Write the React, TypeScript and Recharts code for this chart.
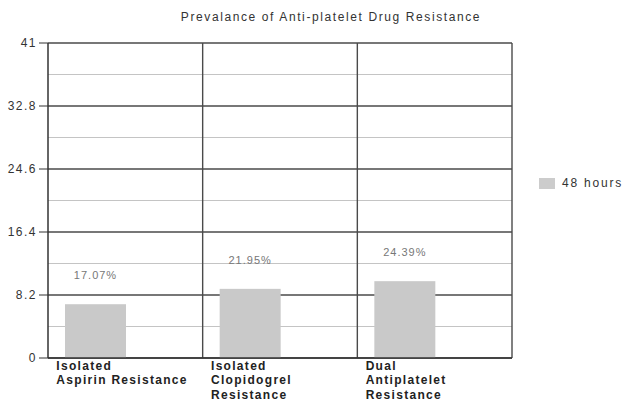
import React from "react"
import { Bar, BarChart, CartesianGrid, XAxis, YAxis, Legend } from "recharts"

const categories = [
    "Isolated\nAspirin Resistance",
    "Isolated\nClopidogrel\nResistance",
    "Dual\nAntiplatelet\nResistance",
]
const counts = [7, 9, 10]
const percentLabels = ["17.07%", "21.95%", "24.39%"]
const majorTicks = [0, 8.2, 16.4, 24.6, 32.8, 41]
const minorTicks = [4.1, 12.3, 20.5, 28.7, 36.9]
const yMax = 41

const data = categories.map((name, i) => ({
    name,
    hours48: counts[i],
    pct: percentLabels[i],
}))

const FONT = "'Liberation Sans', Arial, sans-serif"

// y pixel from value using the plot area the grid hands us
const yFor = (offset: any, v: number) => offset.top + offset.height * (1 - v / yMax)

function CategoryTick({ x, y, payload }: any) {
    const lines = String(payload.value).split("\n")
    return (
        <text
            x={x - 69}
            y={y}
            fill="#222"
            fontSize={12}
            fontWeight="bold"
            letterSpacing={1.3}
            fontFamily={FONT}
            textAnchor="start"
        >
            {lines.map((l, i) => (
                <tspan key={i} x={x - 69} dy={i === 0 ? 4 : 14.3}>
                    {l}
                </tspan>
            ))}
        </text>
    )
}

function ShiftedBar(props: any) {
    const { x, y, width, height, payload } = props
    const bx = x - 30
    return (
        <g>
            <rect x={bx} y={y} width={width} height={height} fill="#c9c9c9" />
            <text
                x={bx + width / 2}
                y={y - 25}
                textAnchor="middle"
                fill="#777"
                fontSize={11}
                letterSpacing={1}
                fontFamily={FONT}
            >
                {payload.pct}
            </text>
        </g>
    )
}

function LegendBox({ payload }: any) {
    return (
        <div style={{ display: "flex", alignItems: "center", fontFamily: FONT, fontSize: 12, letterSpacing: 1.8, color: "#333" }}>
            {(payload || []).map((p: any) => (
                <div key={p.value} style={{ display: "flex", alignItems: "center" }}>
                    <span style={{ width: 16, height: 11, background: "#cccccc", display: "inline-block", marginRight: 7 }} />
                    <span>{p.value}</span>
                </div>
            ))}
        </div>
    )
}

export default function App() {
    return (
        <div style={{ position: "absolute", left: 0, top: 0, width: 639, height: 404, background: "#fff" }}>
            <div
                style={{
                    position: "absolute",
                    top: 10,
                    left: 0,
                    width: 662,
                    textAlign: "center",
                    fontFamily: FONT,
                    fontSize: 12,
                    letterSpacing: 1.6,
                    color: "#333",
                }}
            >
                Prevalance of Anti-platelet Drug Resistance
            </div>
            <BarChart width={639} height={404} data={data} margin={{ top: 43, right: 27, bottom: 16, left: 0 }}>
                <CartesianGrid
                    vertical={false}
                    stroke="#c4c4c4"
                    strokeWidth={1}
                    horizontalCoordinatesGenerator={({ offset }: any) => minorTicks.map((v) => yFor(offset, v))}
                />
                <CartesianGrid
                    stroke="#4a4a4a"
                    strokeWidth={1.4}
                    horizontalCoordinatesGenerator={({ offset }: any) => majorTicks.map((v) => yFor(offset, v))}
                    verticalCoordinatesGenerator={({ offset }: any) =>
                        categories.map((_, i) => offset.left + ((i + 1) * offset.width) / categories.length)
                    }
                />
                <XAxis
                    dataKey="name"
                    interval={0}
                    tickLine={false}
                    axisLine={{ stroke: "#333", strokeWidth: 1.5 }}
                    tick={<CategoryTick />}
                />
                <YAxis
                    domain={[0, yMax]}
                    ticks={majorTicks}
                    width={48}
                    tickSize={9}
                    tickMargin={2}
                    tick={{ fill: "#333", fontSize: 12, fontFamily: FONT, letterSpacing: 1.5 }}
                    tickLine={{ stroke: "#333" }}
                    axisLine={{ stroke: "#333", strokeWidth: 1.5 }}
                />
                <Legend
                    layout="vertical"
                    verticalAlign="top"
                    align="right"
                    content={<LegendBox />}
                    wrapperStyle={{ left: 539, top: 176, width: 100 }}
                />
                <Bar dataKey="hours48" name="48 hours" fill="#cccccc" barSize={61} shape={<ShiftedBar />} isAnimationActive={false} />
            </BarChart>
        </div>
    )
}
